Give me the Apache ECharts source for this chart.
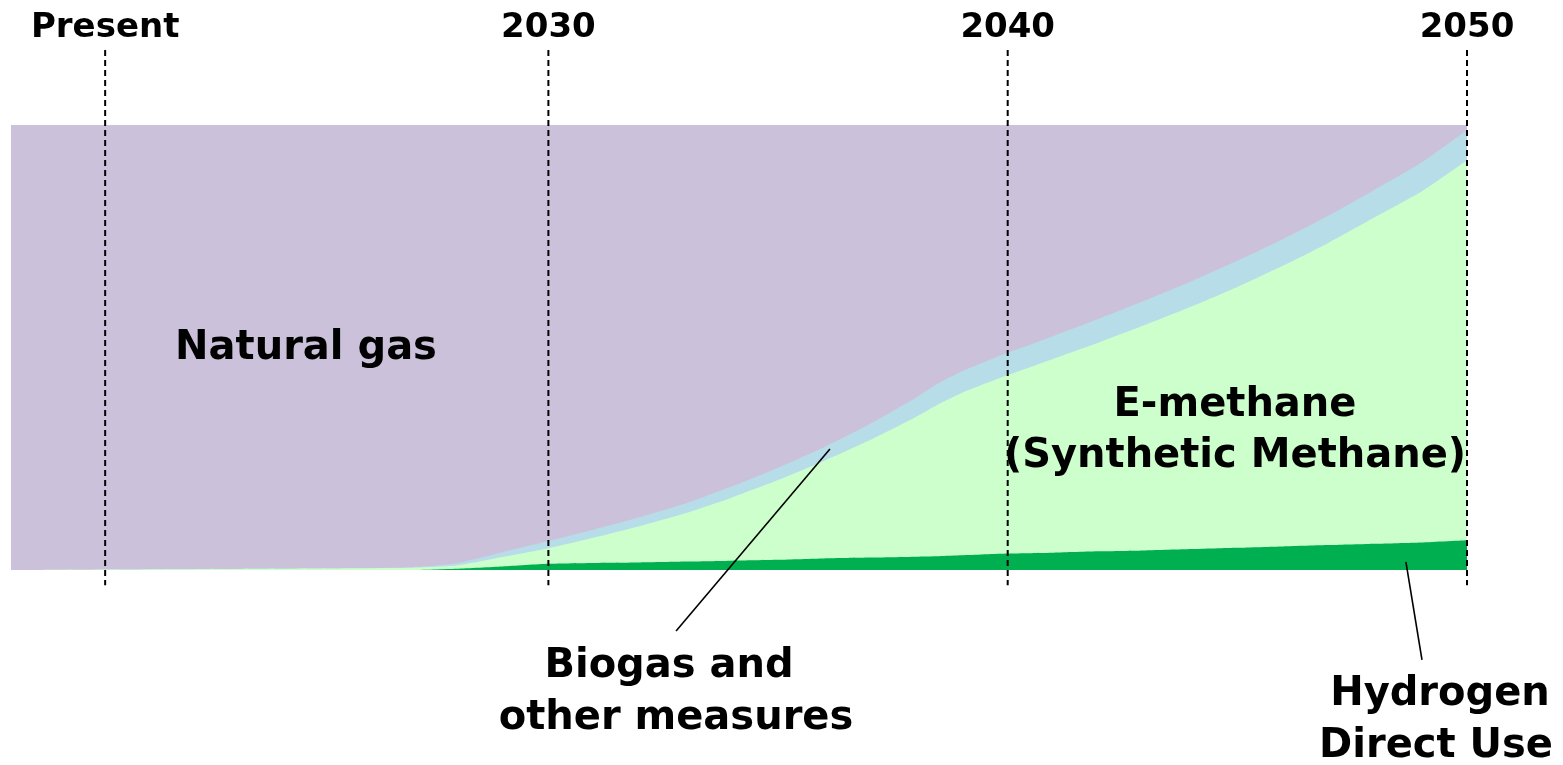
<!DOCTYPE html>
<html>
<head>
<meta charset="utf-8">
<script src="https://cdn.jsdelivr.net/npm/echarts@6/dist/echarts.min.js"></script>
<style>
html,body{margin:0;padding:0;background:#fff;}
#chart{width:1563px;height:765px;}
</style>
</head>
<body>
<div id="chart"></div>
<script>
// ---- data (share of gas supply, %) ----
const years      = [2018.3, 2026, 2027, 2028, 2029, 2030, 2031, 2032, 2033, 2034, 2035, 2036, 2037, 2038, 2038.5, 2039, 2040, 2041, 2042, 2043, 2044, 2045, 2046, 2047, 2048, 2049, 2050];
const hydrogen   = [0, 0, 0, 0.3, 0.8, 1.4, 1.6, 1.7, 1.9, 2.1, 2.3, 2.6, 2.8, 3.0, 3.1, 3.3, 3.7, 3.9, 4.2, 4.4, 4.7, 5.0, 5.3, 5.6, 5.9, 6.2, 6.7];
const eMethane   = [0, 0.4, 0.5, 0.7, 2.1, 3.5, 5.7, 8.2, 10.9, 14.2, 17.9, 21.9, 26.4, 31.4, 34.2, 36.5, 40.1, 43.6, 47.0, 50.7, 54.5, 58.6, 63.1, 68.0, 73.4, 78.8, 85.4];
const biogas     = [0, 0, 0.1, 0.5, 1.1, 1.6, 1.8, 2.0, 2.2, 2.5, 2.8, 3.1, 3.6, 4.3, 4.7, 4.8, 5.0, 5.1, 5.3, 5.5, 5.7, 5.9, 6.0, 6.1, 6.2, 6.5, 6.8];
const naturalGas = [100, 99.6, 99.4, 98.5, 96.0, 93.5, 90.9, 88.1, 85.0, 81.2, 77.0, 72.4, 67.2, 61.3, 58.0, 55.4, 51.2, 47.4, 43.5, 39.4, 35.1, 30.5, 25.6, 20.3, 14.5, 8.5, 1.1];

const markerYears  = [2020.35, 2030, 2040, 2050];
const markerLabels = ['Present', '2030', '2040', '2050'];

const X_MIN = 2018.3, X_MAX = 2050;

// cumulative tops (stack computed here, bottom to top)
const layers = [hydrogen, eMethane, biogas, naturalGas];
const cum = [];
layers.forEach((arr, k) => {
  cum[k] = arr.map((v, i) => (k ? cum[k-1][i] : 0) + v);
});

const chart = echarts.init(document.getElementById('chart'), null, {renderer:'canvas'});

function areaSeries(name, k, color, z, smooth){
  return {
    name, type:'line', data: years.map((y,i)=>[y, Math.min(100, cum[k][i])]),
    showSymbol:false, symbol:'none', smooth:smooth,
    lineStyle:{width:0, color}, itemStyle:{color},
    areaStyle:{color, opacity:1, origin:'start'}, z, silent:true
  };
}

chart.setOption({
  animation:false,
  grid:{left:11, right:96, top:125, bottom:195},
  xAxis:{type:'value', min:X_MIN, max:X_MAX, show:false},
  yAxis:{type:'value', min:0, max:100, show:false},
  series:[
    areaSeries('Natural gas', 3, '#CCC1DA', 1, false),
    areaSeries('Biogas and other measures', 2, '#B7DDE8', 2, 0.2),
    areaSeries('E-methane', 1, '#CCFFCC', 3, 0.2),
    areaSeries('Hydrogen Direct Use', 0, '#00B050', 4, 0.2)
  ]
});

const FONT = '"DejaVu Sans", Verdana, sans-serif';
const g = [];
const px = (x,y)=>chart.convertToPixel({gridIndex:0}, [x,y]);

markerYears.forEach((yr,i)=>{
  const top = px(yr, 116.85), bot = px(yr, -3.4);
  g.push({type:'line', shape:{x1:top[0], y1:top[1], x2:bot[0], y2:bot[1]},
    style:{stroke:'#000', lineWidth:2, lineDash:[6,4]}, z:10, silent:true});
  g.push({type:'text', x:top[0], y:28, style:{text:markerLabels[i], font:'bold 34px '+FONT,
    fill:'#000', align:'center', verticalAlign:'middle'}, z:11});
});

// leader lines
const leaders = [
  [[2036.13, 27.2], [2032.78, -13.7]],
  [[2048.67, 1.8], [2049.02, -20.2]]
];
leaders.forEach(l=>{
  const a = px(l[0][0], l[0][1]), b = px(l[1][0], l[1][1]);
  g.push({type:'line', shape:{x1:a[0], y1:a[1], x2:b[0], y2:b[1]},
    style:{stroke:'#000', lineWidth:1.6}, z:10, silent:true});
});

function label(text, x, y){
  g.push({type:'text', x, y, style:{text, font:'bold 40px '+FONT, fill:'#000',
    align:'center', verticalAlign:'middle'}, z:11});
}
label('Natural gas', 306, 349);
label('E-methane', 1235, 406);
label('(Synthetic Methane)', 1235, 457);
label('Biogas and', 669, 667);
label('other measures', 676, 719);
label('Hydrogen', 1440, 695);
label('Direct Use', 1436, 747);

chart.setOption({graphic:g});
</script>
</body>
</html>
